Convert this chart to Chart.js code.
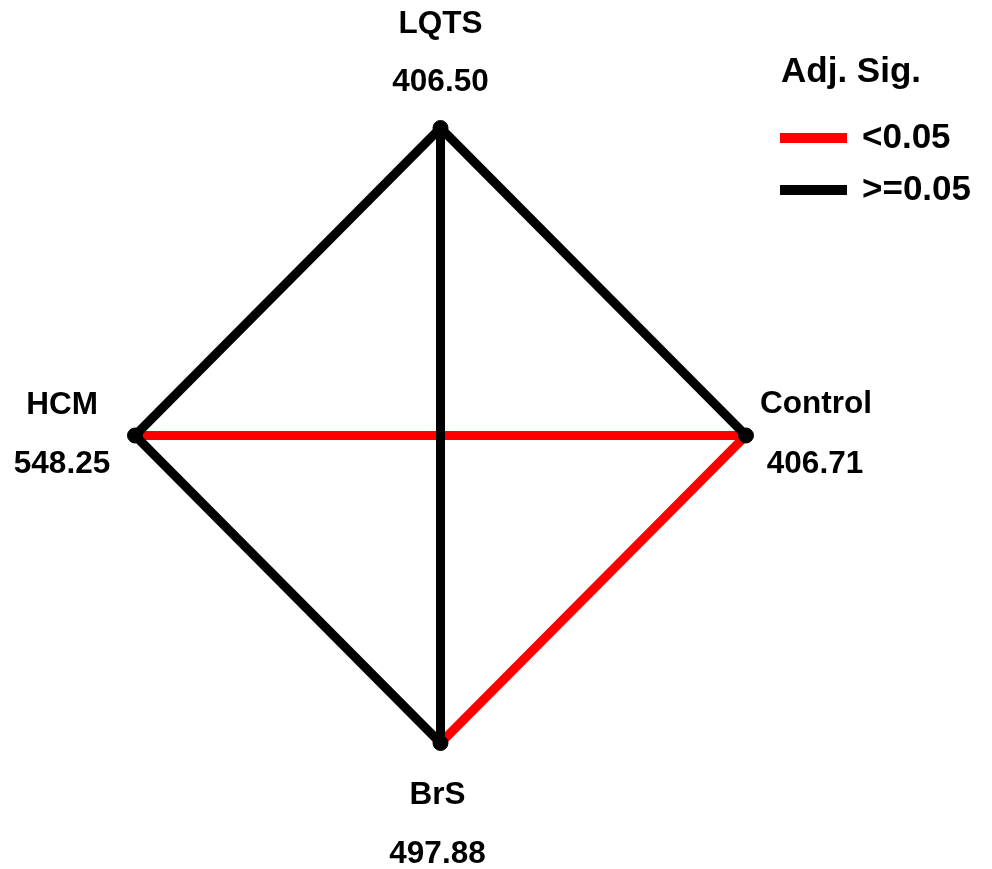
<!DOCTYPE html>
<html>
<head>
<meta charset="utf-8">
<script src="https://cdn.jsdelivr.net/npm/chart.js@4.4.0/dist/chart.umd.min.js"></script>
<style>
  html, body { margin: 0; padding: 0; background: #fff; }
  #wrap { width: 992px; height: 869px; }
</style>
</head>
<body>
<div id="wrap"><canvas id="chart" width="992" height="869"></canvas></div>
<script>
// === PAIRWISE COMPARISON DIAGRAM ===

// nodes (layout coords on a -1..1 diamond)
const nodeNames = ['LQTS', 'HCM', 'Control', 'BrS'];
const nodeValues = ['406.50', '548.25', '406.71', '497.88'];
const nodeX = [0, -1, 1, 0];
const nodeY = [1, 0, 0, -1];

// edges between node indices, with adjusted significance flag (< 0.05)
const edgeFrom = [0, 0, 0, 1, 1, 2];
const edgeTo = [1, 2, 3, 3, 2, 3];
const edgeSignificant = [false, false, false, false, true, true];

const legendTitle = 'Adj. Sig.';
const legendLabels = ['<0.05', '>=0.05'];
const legendColors = ['#ff0000', '#000000'];

const FONT = 'bold 31.5px "Liberation Sans", Arial, sans-serif';
const LEGEND_FONT = 'bold 35px "Liberation Sans", Arial, sans-serif';

// per-node label offsets in pixels [name dx, name dy, value dx, value dy]
const LABEL_OFFSETS = [
    [0, -104, 0, -46],
    [-73, -30, -73, 29],
    [70, -31, 69, 29],
    [-3, 52, -3, 111]
];

const datasets = [];

// nodes drawn on top
datasets.push({
    label: 'nodes',
    data: nodeX.map((x, i) => ({ x: x, y: nodeY[i] })),
    backgroundColor: '#000',
    borderColor: '#000',
    pointRadius: 7.5,
    pointHoverRadius: 7.5,
    showLine: false,
    clip: false,
    order: 0
});

// black edges above red ones (matches the crossing in the middle)
edgeFrom.forEach((from, i) => {
    const to = edgeTo[i];
    const sig = edgeSignificant[i];
    datasets.push({
        label: nodeNames[from] + '-' + nodeNames[to],
        data: [{ x: nodeX[from], y: nodeY[from] }, { x: nodeX[to], y: nodeY[to] }],
        borderColor: sig ? legendColors[0] : legendColors[1],
        borderWidth: 9,
        pointRadius: 0,
        showLine: true,
        fill: false,
        clip: false,
        order: sig ? 2 : 1
    });
});

const labelPlugin = {
    id: 'nodeLabels',
    afterDatasetsDraw(chart) {
        const ctx = chart.ctx;
        const xs = chart.scales.x;
        const ys = chart.scales.y;
        ctx.save();
        ctx.font = FONT;
        ctx.fillStyle = '#000';
        ctx.textAlign = 'center';
        ctx.textBaseline = 'middle';
        nodeNames.forEach((name, i) => {
            const px = xs.getPixelForValue(nodeX[i]);
            const py = ys.getPixelForValue(nodeY[i]);
            const o = LABEL_OFFSETS[i];
            ctx.fillText(name, px + o[0], py + o[1]);
            ctx.fillText(nodeValues[i], px + o[2], py + o[3]);
        });

        // legend block, top right
        ctx.font = LEGEND_FONT;
        ctx.textAlign = 'left';
        ctx.fillText(legendTitle, 781, 72);
        legendLabels.forEach((lab, i) => {
            const y = 138 + i * 52;
            ctx.fillStyle = legendColors[i];
            ctx.fillRect(780, y - 5, 67, 10);
            ctx.fillStyle = '#000';
            ctx.fillText(lab, 862, y);
        });
        ctx.restore();
    }
};

new Chart(document.getElementById('chart').getContext('2d'), {
    type: 'scatter',
    data: { datasets: datasets },
    options: {
        responsive: false,
        animation: false,
        layout: { padding: { left: 135, right: 246, top: 128, bottom: 126 } },
        plugins: { legend: { display: false }, tooltip: { enabled: false } },
        scales: {
            x: { display: false, min: -1, max: 1 },
            y: { display: false, min: -1, max: 1 }
        }
    },
    plugins: [labelPlugin]
});
</script>
</body>
</html>
